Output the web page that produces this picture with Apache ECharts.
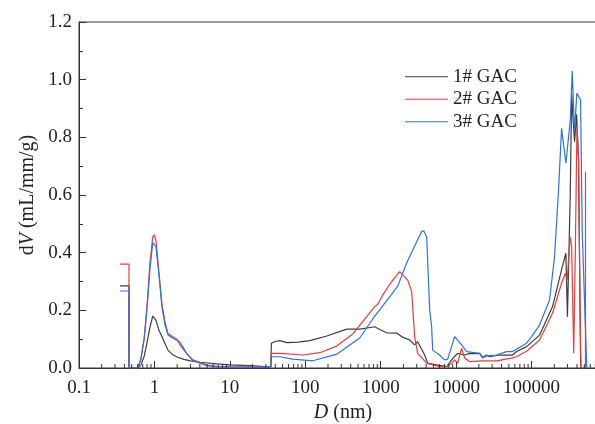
<!DOCTYPE html>
<html>
<head>
<meta charset="utf-8">
<script src="https://cdn.jsdelivr.net/npm/echarts@6/dist/echarts.min.js"></script>
<style>html,body{margin:0;padding:0;background:#fff;}#c{width:595px;height:424px;}</style>
</head>
<body>
<div id="c"></div>
<script>
var seriesNames = ['1# GAC', '2# GAC', '3# GAC'];
var xTickLabels = ['0.1', '1', '10', '100', '1000', '10000', '100000', ''];
var minorTickValues = [
  0.2,0.3,0.4,0.5,0.6,0.7,0.8,0.9,
  2,3,4,5,6,7,8,9,
  20,30,40,50,60,70,80,90,
  200,300,400,500,600,700,800,900,
  2000,3000,4000,5000,6000,7000,8000,9000,
  20000,30000,40000,50000,60000,70000,80000,90000,
  200000,300000,400000,500000,600000,700000,800000,900000
];
// [D (nm), dV (mL/mm/g)]
var gac1 = [[0.35,0.285],[0.46,0.285],[0.46,0],[0.60,0],[0.66,0.01],[0.73,0.04],[0.80,0.09],[0.87,0.14],[0.95,0.18],[1.05,0.165],[1.15,0.13],[1.26,0.108],[1.38,0.085],[1.51,0.062],[1.71,0.048],[1.99,0.038],[2.46,0.03],[3.0,0.025],[4.0,0.02],[6.7,0.014],[10,0.011],[18.4,0.008],[29,0.005],[34.9,0.004],[35.5,0.086],[40,0.092],[45.9,0.095],[56.9,0.088],[80,0.09],[115,0.095],[193,0.111],[355,0.135],[527,0.135],[833,0.143],[1000,0.132],[1199,0.122],[1630,0.121],[1955,0.107],[2420,0.097],[2818,0.08],[3090,0.091],[3828,0.045],[4195,0.017],[5686,0.01],[7482,0.005],[8710,0.028],[9550,0.04],[10470,0.051],[12960,0.045],[15100,0.05],[20480,0.051],[22440,0.036],[25330,0.045],[27780,0.039],[37670,0.045],[56000,0.045],[63240,0.057],[85880,0.074],[127600,0.114],[189700,0.213],[249600,0.34],[285000,0.398],[299000,0.178],[326000,0.606],[340000,0.95],[351000,0.883],[371300,0.785],[395000,0.88],[419600,0.72],[445900,0.04],[450000,0]];
var gac2 = [[0.35,0.36],[0.46,0.36],[0.46,0],[0.60,0],[0.66,0.03],[0.73,0.1],[0.80,0.22],[0.87,0.36],[0.95,0.455],[1.0,0.462],[1.05,0.44],[1.15,0.33],[1.26,0.22],[1.38,0.16],[1.51,0.12],[1.71,0.11],[1.99,0.10],[2.18,0.08],[2.69,0.05],[3.24,0.028],[4.96,0.01],[6.7,0.006],[10,0.005],[18.4,0.004],[34.9,0.003],[35.5,0.051],[45.9,0.051],[92.6,0.045],[156,0.053],[261,0.076],[426,0.118],[653,0.178],[833,0.213],[913,0.22],[1062,0.253],[1399,0.30],[1786,0.334],[2278,0.305],[2574,0.265],[2818,0.109],[3090,0.051],[4067,0.017],[6040,0.005],[7482,0.005],[8710,0.016],[9550,0.028],[10470,0.016],[11820,0.069],[12960,0.035],[15100,0.022],[22440,0.025],[34380,0.025],[56000,0.035],[63240,0.039],[85880,0.058],[127600,0.097],[189700,0.19],[249600,0.294],[280000,0.328],[297000,0.305],[324000,0.455],[340000,0.42],[362000,0.051],[380000,0.4],[400000,0.84],[419600,0.72],[440000,0.19],[452000,0],[518000,0],[518700,0.68],[519300,0]];
var gac3 = [[0.35,0.267],[0.46,0.267],[0.46,0],[0.60,0],[0.66,0.03],[0.73,0.1],[0.80,0.21],[0.87,0.34],[0.95,0.435],[1.0,0.44],[1.05,0.42],[1.15,0.32],[1.26,0.21],[1.38,0.15],[1.51,0.115],[1.71,0.105],[2.18,0.09],[2.69,0.05],[3.24,0.025],[4.96,0.008],[6.7,0.004],[10,0.003],[18.4,0.002],[34.9,0.002],[35.5,0.039],[45.9,0.039],[68,0.031],[126,0.025],[261,0.048],[527,0.104],[784,0.17],[1315,0.247],[1680,0.284],[2208,0.364],[2997,0.438],[3491,0.473],[3715,0.476],[4067,0.455],[4460,0.201],[4736,0.143],[4884,0.062],[5190,0.066],[6040,0.045],[7040,0.028],[7714,0.03],[9550,0.109],[11820,0.08],[13770,0.057],[20480,0.051],[22440,0.035],[25330,0.042],[34380,0.045],[46640,0.057],[56000,0.057],[85880,0.086],[100000,0.109],[127600,0.149],[173000,0.236],[201700,0.386],[227800,0.617],[250000,0.831],[285000,0.71],[299000,0.716],[326000,0.86],[346000,1.03],[371300,0.82],[398000,0.953],[445900,0.93],[470000,0.467],[534800,0.03],[540000,0]];
var seriesColors = ['#3c3c3c', '#ec3b3b', '#2a72e5'];

var FONT = 'Liberation Serif';
var chart = echarts.init(document.getElementById('c'), null, {renderer: 'canvas'});
var lineData = [gac1, gac2, gac3];
var series = lineData.map(function (d, i) {
  return {
    name: seriesNames[i], type: 'line', data: d, symbol: 'none', smooth: false,
    lineStyle: {color: seriesColors[i], width: 1.2}, itemStyle: {color: seriesColors[i]},
    clip: true, animation: false, z: 3
  };
});
series.push({
  type: 'custom', data: minorTickValues.map(function (v) { return [v, 0]; }),
  encode: {x: 0, y: 1}, silent: true, animation: false, z: 5,
  renderItem: function (params, api) {
    var p = api.coord([api.value(0), 0]);
    return {type: 'line', shape: {x1: p[0], y1: p[1], x2: p[0], y2: p[1] - 4},
      style: {stroke: '#333', lineWidth: 1}};
  }
});
chart.setOption({
  animation: false,
  backgroundColor: '#fff',
  grid: {left: 79, top: 22, width: 528, height: 346, show: true, borderColor: '#333', borderWidth: 1,
    backgroundColor: 'transparent', containLabel: false, outerBoundsMode: 'none'},
  legend: {
    data: seriesNames, orient: 'vertical', left: 400, top: 62, icon: 'rect', itemWidth: 43, itemHeight: 1.2, itemGap: 3,
    textStyle: {fontFamily: FONT, fontSize: 19, color: '#222', lineHeight: 19.5}
  },
  xAxis: {
    type: 'log', logBase: 10, min: 0.1, max: 1000000, interval: 1,
    axisLine: {lineStyle: {color: '#333', width: 1}},
    axisTick: {inside: true, length: 7, lineStyle: {color: '#333'}},
    splitLine: {show: false},
    axisLabel: {fontFamily: FONT, fontSize: 19, color: '#222', margin: 11, hideOverlap: false,
      formatter: function (v) { return xTickLabels[Math.round(Math.log10(v)) + 1]; }},
    name: '{i|D}{n| (nm)}', nameLocation: 'middle', nameGap: 32,
    nameTextStyle: {fontFamily: FONT, fontSize: 20, color: '#222',
      rich: {i: {fontFamily: FONT, fontSize: 20, fontStyle: 'italic', color: '#222'}, n: {fontFamily: FONT, fontSize: 20, color: '#222'}}}
  },
  yAxis: {
    type: 'value', min: 0, max: 1.2, interval: 0.2,
    axisLine: {show: true, lineStyle: {color: '#333', width: 1}},
    axisTick: {show: true, inside: true, length: 7, lineStyle: {color: '#333'}},
    minorTick: {show: true, splitNumber: 2, length: 4, lineStyle: {color: '#333'}},
    splitLine: {show: false},
    axisLabel: {fontFamily: FONT, fontSize: 19, color: '#222', margin: 7,
      formatter: function (v) { return v.toFixed(1); }},
    name: '{d|d}{i|V}{d| (mL/mm/g)}', nameLocation: 'middle', nameGap: 40,
    nameTextStyle: {fontFamily: FONT, fontSize: 20, color: '#222',
      rich: {i: {fontFamily: FONT, fontSize: 20, fontStyle: 'italic', color: '#222'}, d: {fontFamily: FONT, fontSize: 20, color: '#222'}}}
  },
  series: series
});
</script>
</body>
</html>
